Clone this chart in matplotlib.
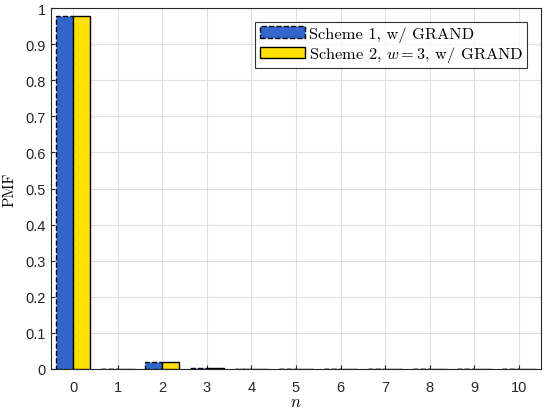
import matplotlib
matplotlib.use("Agg")
import matplotlib.pyplot as plt
import numpy as np

plt.rcParams['mathtext.fontset'] = 'cm'
plt.rcParams['font.family'] = ['Liberation Sans', 'DejaVu Sans']

n_vals = list(range(0, 11))
scheme1 = [0.978, 0.0012, 0.018, 0.0025, 0.0004, 0.0002, 0.0001, 0.0001, 0.0001, 0.0001, 0.0001]
scheme2 = [0.979, 0.0010, 0.019, 0.0020, 0.0003, 0.0002, 0.0001, 0.0001, 0.0001, 0.0001, 0.0001]
labels = ['Scheme 1, w/ GRAND', r'Scheme 2, $w=3$, w/ GRAND']
yticks = [0, 0.1, 0.2, 0.3, 0.4, 0.5, 0.6, 0.7, 0.8, 0.9, 1]
ytick_labels = ['0', '0.1', '0.2', '0.3', '0.4', '0.5', '0.6', '0.7', '0.8', '0.9', '1']

fig = plt.figure(figsize=(5.5, 4.14), dpi=100)
ax = fig.add_axes([0.0927, 0.1063, 0.8909, 0.8717])

x = np.array(n_vals)
w = 0.38
ax.bar(x - w/2, scheme1, width=w, color='#3366CC', edgecolor='black', linestyle='--', linewidth=1.0, label=labels[0], zorder=3)
ax.bar(x + w/2, scheme2, width=w, color='#FFE100', edgecolor='black', linewidth=1.0, label=labels[1], zorder=3)

ax.set_xlim(-0.5, 10.5)
ax.set_ylim(0, 1)
ax.set_xticks(n_vals)
ax.set_yticks(yticks)
ax.set_yticklabels(ytick_labels)
ax.grid(True, color='#DFDFDF', linewidth=0.8, zorder=0)
ax.set_axisbelow(True)
for s in ax.spines.values():
    s.set_color('#262626')
    s.set_linewidth(0.8)
ax.tick_params(direction='in', length=3, width=0.8, colors='#262626', labelsize=10.5, top=False, right=False)
ax.tick_params(axis='x', pad=8)
ax.set_xlabel(r'$n$', fontsize=12, labelpad=0)
ax.set_ylabel('PMF', fontsize=11, labelpad=7, family='cmr10')

leg = ax.legend(loc='upper right', prop={'family': 'cmr10', 'size': 11.8}, frameon=True, fancybox=False,
                edgecolor='black', borderpad=0.25, handlelength=2.8, handletextpad=0.2,
                labelspacing=0.15, borderaxespad=0.85)
leg.get_frame().set_linewidth(0.8)

fig.savefig('out.png', dpi=100)
